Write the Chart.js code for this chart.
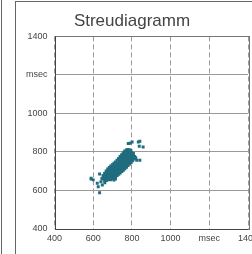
<!DOCTYPE html>
<html>
<head>
<meta charset="utf-8">
<script src="https://cdn.jsdelivr.net/npm/chart.js@4/dist/chart.umd.min.js"></script>
<style>
  html, body { margin: 0; padding: 0; background: #fff; overflow: hidden; }
  body { width: 252px; height: 254px; position: relative; }
  #lineLeft { position: absolute; left: 1px; top: 0; width: 0; height: 254px; border-left: 1.5px solid #666; }
  #frame { position: absolute; left: 15px; top: 1px; width: 260px; height: 270px; border-left: 1.5px solid #666; border-top: 1.5px solid #666; }
  #wrap { position: absolute; left: 16px; top: 0; width: 252px; height: 254px; }
</style>
</head>
<body>
<div id="lineLeft"></div>
<div id="frame"></div>
<div id="wrap"><canvas id="c" width="252" height="254"></canvas></div>
<script>
const chartTitle = 'Streudiagramm';
const xTickLabels = ['400', '600', '800', '1000', 'msec', '1400'];
const yTickLabels = ['400', '600', '800', '1000', 'msec', '1400'];
const axisMin = 400;
const axisMax = 1400;
const axisStep = 200;

// RR(n) values (msec)
const rrX = [
  655,657, 663,662,664, 671,670,672,671, 679,678,680,679,
  687,686,688,687,689, 695,694,696,695,694, 703,704,702,703,705,
  711,710,712,711,710, 719,720,718,719,721, 727,726,728,727,726,
  735,736,734,735,737,735, 743,742,744,743,742,744,
  751,752,750,751,753,751, 759,758,760,759,758,760,759,
  767,768,766,767,769,767,766, 775,774,776,775,774,776,
  783,784,782,783,785,783, 791,790,792,791,790,
  799,800,798,799, 807,806,808, 814,
  660,668,676,684,692,700,708,716,724,732,740,748,756,764,772,780,788,796,804,812,
  651,659,667,675,683,691,699,707,715,723,731,739,747,755,763,771,779,787,795,
  590,600,621,633,633,647,640,660,707,715,626,589,645,690,
  781,790,801,833,838,841,858,825,841,820
];
// RR(n+1) values (msec)
const rrY = [
  658,670, 661,672,683, 663,675,686,694, 665,677,689,701,
  668,680,692,703,712, 670,683,694,706,718, 673,685,697,709,721,
  680,692,704,716,728, 687,699,711,723,735, 693,705,717,729,741,
  700,712,724,736,748,756, 707,719,731,743,755,766,
  713,725,737,749,761,773, 721,733,745,757,769,781,790,
  729,741,753,765,777,789,798, 737,749,761,773,785,797,
  745,757,769,781,793,804, 752,764,776,788,800,
  760,772,784,796, 768,780,792, 776,
  650,652,655,657,660,663,667,672,678,684,691,698,705,713,721,729,737,745,754,763,
  678,690,701,711,720,727,734,741,748,757,766,776,786,796,805,810,813,812,808,
  659,655,637,588,685,628,645,640,654,660,619,664,662,655,
  844,845,852,852,830,856,826,757,757,770
];

const points = rrX.map((x, i) => ({ x: x, y: rrY[i] }));

const frameBox = {
  id: 'frameBox',
  afterDraw(chart) {
    const a = chart.chartArea, ctx = chart.ctx;
    ctx.save();
    ctx.strokeStyle = '#777';
    ctx.lineWidth = 1;
    ctx.setLineDash([]);
    ctx.strokeRect(Math.round(a.left) + 0.5, Math.round(a.top) + 0.5, Math.round(a.right - a.left), Math.round(a.bottom - a.top));
    ctx.strokeStyle = '#444';
    ctx.beginPath();
    ctx.moveTo(Math.round(a.left) + 0.5, Math.round(a.top));
    ctx.lineTo(Math.round(a.left) + 0.5, Math.round(a.bottom) + 0.5);
    ctx.lineTo(Math.round(a.right), Math.round(a.bottom) + 0.5);
    ctx.stroke();
    ctx.restore();
  }
};

new Chart(document.getElementById('c'), {
  type: 'scatter',
  data: {
    datasets: [{
      data: points,
      pointStyle: 'rect',
      pointRadius: 2.1,
      pointBorderWidth: 0,
      backgroundColor: '#1f6d7e',
      borderColor: '#1f6d7e'
    }]
  },
  options: {
    responsive: false,
    animation: false,
    layout: { padding: { left: 0, right: 20, top: 0, bottom: 0 } },
    plugins: {
      legend: { display: false },
      tooltip: { enabled: false },
      title: {
        display: true,
        text: chartTitle,
        color: '#444',
        font: { family: 'Liberation Sans', size: 17, weight: 'normal' },
        padding: { top: 11, bottom: 5 }
      }
    },
    scales: {
      x: {
        type: 'linear',
        min: axisMin, max: axisMax,
        afterFit(s) { s.height = 25; },
        ticks: {
          stepSize: axisStep,
          padding: 4,
          color: '#444',
          font: { family: 'Liberation Sans', size: 9 },
          maxRotation: 0,
          callback: (v) => xTickLabels[Math.round((v - axisMin) / axisStep)]
        },
        grid: { color: '#999', lineWidth: 1, drawTicks: false },
        border: { display: false, dash: [5, 3] }
      },
      y: {
        type: 'linear',
        min: axisMin, max: axisMax,
        afterFit(s) { s.width = 38.5; },
        ticks: {
          stepSize: axisStep,
          padding: 7,
          color: '#444',
          font: { family: 'Liberation Sans', size: 9 },
          callback: (v) => yTickLabels[Math.round((v - axisMin) / axisStep)]
        },
        grid: { color: '#999', lineWidth: 1, drawTicks: false },
        border: { display: false }
      }
    }
  },
  plugins: [frameBox]
});
</script>
</body>
</html>
